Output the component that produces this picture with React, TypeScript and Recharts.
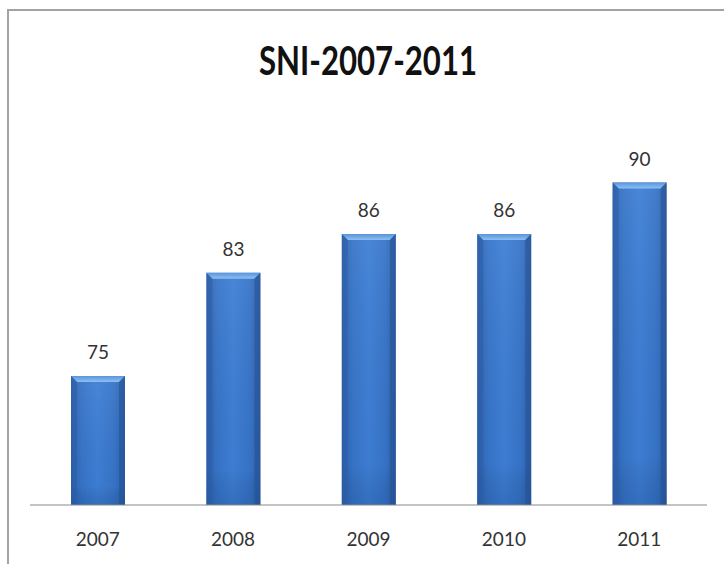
import React from 'react';
import { BarChart, Bar, XAxis, YAxis, LabelList } from 'recharts';

const years = ['2007', '2008', '2009', '2010', '2011'];
const values = [75, 83, 86, 86, 90];
const title = 'SNI-2007-2011';

const data = years.map((y, i) => ({ year: y, value: values[i] }));

const BarShape = (props: any) => {
  const { x, y, width, height } = props;
  if (!height || height <= 0) return null;
  const b = 6;
  return (
    <g>
      <rect x={x} y={y} width={width} height={height} fill="url(#barH)" />
      <rect x={x} y={y} width={width} height={height} fill="url(#barV)" />
      <polygon
        points={`${x},${y} ${x + width},${y} ${x + width - b},${y + b} ${x + b},${y + b}`}
        fill="url(#bevel)"
      />
      <polygon
        points={`${x},${y} ${x + b},${y + b} ${x + b},${y + height} ${x},${y + height}`}
        fill="#2b5da6"
        opacity={0.55}
      />
      <polygon
        points={`${x + width},${y} ${x + width - b},${y + b} ${x + width - b},${y + height} ${x + width},${y + height}`}
        fill="#24508f"
        opacity={0.55}
      />
    </g>
  );
};

export default function App() {
  return (
    <div style={{ position: 'absolute', left: 0, top: 0, width: 724, height: 564, background: '#fff', overflow: 'hidden' }}>
      <div
        style={{
          position: 'absolute',
          left: 7,
          top: 9,
          width: 760,
          height: 600,
          borderTop: '2px solid #a3a3a3',
          borderLeft: '2px solid #a3a3a3',
        }}
      />
      <svg width={724} height={100} style={{ position: 'absolute', left: 0, top: 0 }}>
        <text
          x={368}
          y={75}
          textAnchor="middle"
          textLength={218}
          lengthAdjust="spacingAndGlyphs"
          fontFamily="Lato, 'Open Sans', sans-serif"
          fontWeight={700}
          fontSize={41}
          fill="#111"
        >
          {title}
        </text>
      </svg>
      <div style={{ position: 'absolute', left: 0, top: 0 }}>
        <BarChart
          width={724}
          height={564}
          data={data}
          margin={{ top: 118, right: 17, bottom: 29, left: 30 }}
          barSize={54}
        >
          <defs>
            <linearGradient id="barH" x1="0" y1="0" x2="1" y2="0">
              <stop offset="0%" stopColor="#2d62ae" />
              <stop offset="20%" stopColor="#3774c8" />
              <stop offset="50%" stopColor="#3e7fd6" />
              <stop offset="80%" stopColor="#3774c8" />
              <stop offset="100%" stopColor="#2d62ae" />
            </linearGradient>
            <linearGradient id="barV" x1="0" y1="0" x2="0" y2="1">
              <stop offset="0%" stopColor="#ffffff" stopOpacity={0.06} />
              <stop offset="85%" stopColor="#000000" stopOpacity={0.02} />
              <stop offset="100%" stopColor="#0a2a60" stopOpacity={0.18} />
            </linearGradient>
            <linearGradient id="bevel" x1="0" y1="0" x2="0" y2="1">
              <stop offset="0%" stopColor="#5a94dc" />
              <stop offset="100%" stopColor="#8cc0f2" />
            </linearGradient>
          </defs>
          <XAxis
            dataKey="year"
            height={30}
            axisLine={{ stroke: '#8a8a8a', strokeWidth: 1.2 }}
            tickLine={false}
            tickSize={0}
            tickMargin={28}
            tick={{ fill: '#333', fontSize: 19, fontFamily: "Lato, 'Open Sans', sans-serif" }}
          />
          <YAxis hide domain={[65, 95]} allowDataOverflow />
          <Bar dataKey="value" isAnimationActive={false} shape={BarShape}>
            <LabelList
              dataKey="value"
              position="top"
              offset={17}
              fill="#333"
              fontSize={19}
              fontFamily="Lato, 'Open Sans', sans-serif"
            />
          </Bar>
        </BarChart>
      </div>
    </div>
  );
}
